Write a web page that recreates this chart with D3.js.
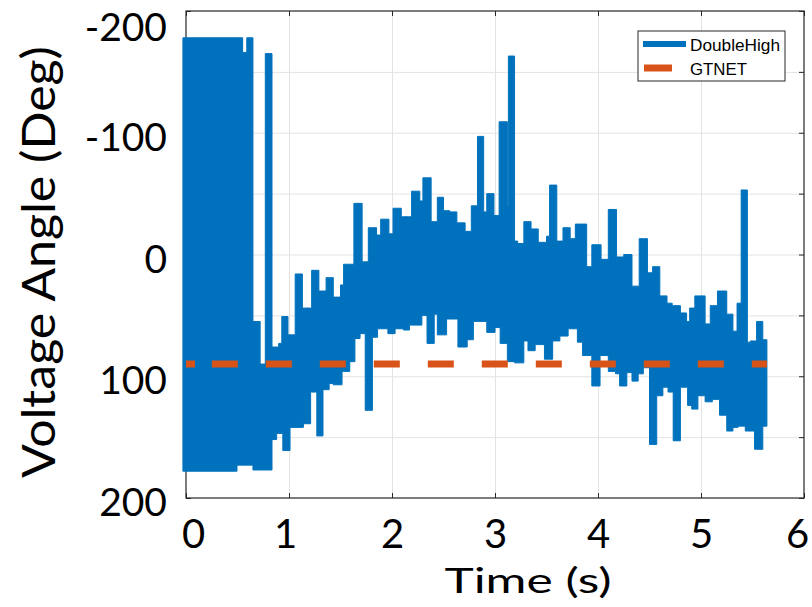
<!DOCTYPE html>
<html lang="en">
<head>
<meta charset="UTF-8">
<title>Voltage Angle - DoubleHigh vs GTNET</title>
<script src="https://d3js.org/d3.v7.min.js"></script>
<style>
  body { margin: 0; background: #ffffff; }
  svg { display: block; }
  .big-label { font-family: Lato, "Open Sans", sans-serif; fill: #000; }
  .legend-text { font-family: "Liberation Sans", Arial, sans-serif; font-size: 16px; fill: #000; }
</style>
</head>
<body>
<svg id="chart" width="812" height="607"></svg>
<script>
// DoubleHigh: the signal oscillates too fast to see single samples,
// so it is kept as its visible upper / lower envelope (step values, deg)
const topTime = [-0.03, 0.55, 0.59, 0.65, 0.72, 0.77, 0.835, 0.90, 0.93, 0.99, 1.06, 1.13, 1.22, 1.29, 1.36,
  1.43, 1.50, 1.53, 1.63, 1.71, 1.77, 1.85, 1.89, 1.97, 2.01, 2.09, 2.19, 2.27, 2.30, 2.38, 2.44, 2.50,
  2.56, 2.63, 2.71, 2.77, 2.83, 2.89, 2.92, 2.99, 3.04, 3.12, 3.13, 3.19, 3.22, 3.28, 3.35, 3.42, 3.50,
  3.53, 3.60, 3.66, 3.73, 3.78, 3.89, 3.94, 4.03, 4.10, 4.18, 4.25, 4.33, 4.40, 4.48, 4.53, 4.60, 4.67,
  4.72, 4.80, 4.86, 4.89, 4.94, 5.04, 5.09, 5.16, 5.25, 5.31, 5.35, 5.39, 5.45, 5.48, 5.54, 5.60, 5.64];
const topAngle = [-178, -166, -178, 55, 90, -165, 76, 73, 51, 66, 16, 44, 13, 30, 19,
  35, 25, 8, -42, 6, -22, -16, -29, -17, -38, -31, -52, -44, -63, -27, -47, -36,
  -35, -26, -19, -40, -97, -35, -50, -32, -109, -40, -163, -11, -9, -27, -21, -10, -15,
  -57, -11, -22, -13, -25, 10, -8, 4, -37, 2, 0, 26, -13, 15, 10, 34, 40,
  42, 48, 55, 44, 34, 57, 42, 30, 49, 63, 40, -53, 72, 71, 55, 70, 70];

const bottomTime = [-0.03, 0.495, 0.65, 0.835, 0.88, 0.94, 1.01, 1.14, 1.21, 1.27, 1.33, 1.39, 1.43, 1.515,
  1.59, 1.64, 1.69, 1.74, 1.81, 1.86, 1.96, 2.03, 2.11, 2.17, 2.29, 2.34, 2.41, 2.44, 2.53, 2.64, 2.73,
  2.79, 2.92, 3.00, 3.05, 3.12, 3.19, 3.28, 3.32, 3.39, 3.48, 3.56, 3.63, 3.71, 3.80, 3.85, 3.94, 4.02,
  4.10, 4.17, 4.21, 4.28, 4.33, 4.39, 4.44, 4.50, 4.57, 4.63, 4.68, 4.73, 4.80, 4.87, 4.91, 4.97, 5.04,
  5.11, 5.18, 5.25, 5.31, 5.36, 5.43, 5.52, 5.60, 5.64];
const bottomAngle = [178, 173, 177, 152, 147, 161, 142, 139, 113, 149, 111, 106, 107, 96,
  88, 69, 65, 128, 68, 61, 65, 61, 62, 58, 50, 73, 49, 66, 53, 76, 70,
  55, 64, 60, 73, 88, 89, 71, 79, 74, 86, 71, 67, 61, 72, 83, 108, 83,
  96, 98, 108, 97, 104, 98, 93, 156, 116, 109, 113, 153, 109, 124, 127, 116, 121,
  119, 132, 145, 142, 141, 145, 160, 141, 141];

// GTNET reference (deg)
const gtnetTime = [0, 0.10, 0.105, 0.17, 0.175, 5.64];
const gtnetAngle = [90, 90, 95, 95, 90, 90];

const xTicks = [0, 1, 2, 3, 4, 5, 6];
const yTicks = [-200, -150, -100, -50, 0, 50, 100, 150, 200];
const yLabelTicks = [-200, -100, 0, 100, 200];
const seriesNames = ["DoubleHigh", "GTNET"];

const blue = "#0072bd", orange = "#d95319";

const svg = d3.select("#chart");
const x = d3.scaleLinear().domain([0, 6]).range([186, 804]);
const y = d3.scaleLinear().domain([-200, 200]).range([11, 498]);
const plotW = 804 - 186, plotH = 498 - 11;

// grid
svg.append("g")
  .attr("transform", "translate(0,498)")
  .call(d3.axisBottom(x).tickValues(xTicks.slice(1, -1)).tickSize(-plotH).tickFormat(""))
  .call(g => g.select(".domain").remove())
  .selectAll("line").attr("stroke", "#e3e3e3");
svg.append("g")
  .attr("transform", "translate(186,0)")
  .call(d3.axisLeft(y).tickValues(yTicks.slice(1, -1)).tickSize(-plotW).tickFormat(""))
  .call(g => g.select(".domain").remove())
  .selectAll("line").attr("stroke", "#e3e3e3");

// box + inward ticks on all four sides
svg.append("rect")
  .attr("x", 186).attr("y", 11).attr("width", plotW).attr("height", plotH)
  .attr("fill", "none").attr("stroke", "#262626").attr("stroke-width", 1.2);
const tickAxes = [
  [d3.axisBottom(x).tickValues(xTicks), "translate(0,498)"],
  [d3.axisTop(x).tickValues(xTicks), "translate(0,11)"],
  [d3.axisLeft(y).tickValues(yTicks), "translate(186,0)"],
  [d3.axisRight(y).tickValues(yTicks), "translate(804,0)"]
];
tickAxes.forEach(([ax, tr]) => {
  svg.append("g").attr("transform", tr)
    .call(ax.tickSize(-5).tickFormat(""))
    .call(g => g.select(".domain").remove())
    .selectAll("line").attr("stroke", "#262626");
});

// DoubleHigh band: merge the two step envelopes on their breakpoints
const stepAt = (times, vals, t) => vals[Math.max(0, d3.bisectRight(times, t) - 1)];
const stepTimes = Array.from(new Set(topTime.concat(bottomTime))).sort((a, b) => a - b);
const band = stepTimes.map(t => ({
  t: t,
  hi: stepAt(topTime, topAngle, t),
  lo: stepAt(bottomTime, bottomAngle, t)
}));

svg.append("path")
  .datum(band)
  .attr("d", d3.area()
    .x(d => x(d.t))
    .y0(d => y(d.lo))
    .y1(d => y(d.hi))
    .curve(d3.curveStepAfter))
  .attr("fill", blue)
  .attr("stroke", blue)
  .attr("stroke-width", 1);

// GTNET dashed line
const gtnet = gtnetTime.map((t, i) => ({t: t, v: gtnetAngle[i]}));
svg.append("path")
  .datum(gtnet)
  .attr("d", d3.line().x(d => x(d.t)).y(d => y(d.v)))
  .attr("fill", "none")
  .attr("stroke", orange)
  .attr("stroke-width", 7)
  .attr("stroke-dasharray", "26 28")
  .attr("stroke-dashoffset", 17);

// tick labels (large, placed like the edited figure)
const xLab = svg.append("g")
  .attr("transform", "translate(0,498)")
  .call(d3.axisBottom(x).tickValues(xTicks).tickSize(0).tickPadding(22).tickFormat(d => String(d)));
xLab.select(".domain").remove();
xLab.selectAll("text")
  .attr("class", "big-label")
  .style("font-size", "40px")
  .attr("dx", d => d === 0 ? 7 : d === 6 ? -7 : d === 1 ? -4 : 0);

const yLab = svg.append("g")
  .attr("transform", "translate(186,0)")
  .call(d3.axisLeft(y).tickValues(yLabelTicks).tickSize(0).tickPadding(19).tickFormat(d => String(d)));
yLab.select(".domain").remove();
yLab.selectAll("text")
  .attr("class", "big-label")
  .style("font-size", "39px")
  .attr("dy", d => d === -200 ? "0.75em" : "0.45em");

// axis titles
svg.append("text")
  .attr("class", "big-label")
  .attr("x", 528).attr("y", 593)
  .attr("text-anchor", "middle")
  .style("font-size", "35px")
  .attr("textLength", 167).attr("lengthAdjust", "spacingAndGlyphs")
  .text("Time (s)");

svg.append("text")
  .attr("class", "big-label")
  .attr("transform", "translate(55,262) rotate(-90)")
  .attr("text-anchor", "middle")
  .style("font-size", "46px")
  .attr("textLength", 432).attr("lengthAdjust", "spacingAndGlyphs")
  .text("Voltage Angle (Deg)");

// legend
const legend = svg.append("g");
legend.append("rect")
  .attr("x", 638).attr("y", 31).attr("width", 147).attr("height", 50)
  .attr("fill", "#fff").attr("stroke", "#262626").attr("stroke-width", 1);
const legendRows = [
  {name: seriesNames[0], color: blue, x1: 643, x2: 686, cy: 44, w: 6, tl: 90},
  {name: seriesNames[1], color: orange, x1: 644, x2: 672, cy: 68, w: 7, tl: 57}
];
legendRows.forEach(r => {
  legend.append("line")
    .attr("x1", r.x1).attr("x2", r.x2).attr("y1", r.cy).attr("y2", r.cy)
    .attr("stroke", r.color).attr("stroke-width", r.w);
  legend.append("text")
    .attr("class", "legend-text")
    .attr("x", 690).attr("y", r.cy + 7)
    .attr("textLength", r.tl).attr("lengthAdjust", "spacingAndGlyphs")
    .text(r.name);
});
</script>
</body>
</html>
